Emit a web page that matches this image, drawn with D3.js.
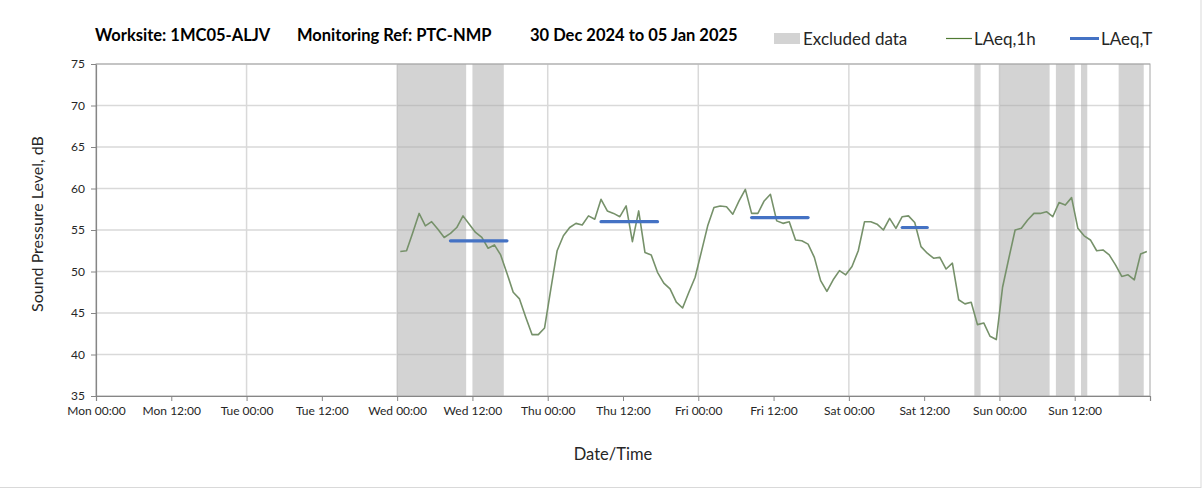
<!DOCTYPE html>
<html>
<head>
<meta charset="utf-8">
<script src="https://cdn.jsdelivr.net/npm/d3@7"></script>
<style>
  body { margin: 0; background: #fff; }
  svg { display: block; font-family: Lato, "Open Sans", sans-serif; }
</style>
</head>
<body>
<div id="chart"></div>
<script>
// Hourly LAeq,1h values, first point at Wed 01 Jan 2025 00:30, one per hour
var hourStart = Date.UTC(2025, 0, 1, 0, 30);
var laeq1h = [
  // Wed
  52.4, 52.5, 54.7, 57.0, 55.5, 56.0, 55.1, 54.1, 54.6, 55.3, 56.7, 55.7,
  54.7, 54.1, 52.8, 53.2, 52.0, 49.8, 47.5, 46.7, 44.5, 42.4, 42.4, 43.2,
  // Thu
  47.9, 52.5, 54.3, 55.3, 55.8, 55.6, 56.7, 56.3, 58.7, 57.3, 57.0, 56.6,
  57.9, 53.6, 57.3, 52.3, 52.0, 49.9, 48.6, 47.9, 46.3, 45.6, 47.5, 49.3,
  // Fri
  52.4, 55.5, 57.7, 57.9, 57.8, 56.9, 58.5, 59.9, 57.0, 57.0, 58.5, 59.3,
  56.1, 55.8, 56.0, 53.8, 53.7, 53.3, 51.7, 48.9, 47.6, 49.0, 50.1, 49.6,
  // Sat
  50.6, 52.5, 56.0, 56.0, 55.7, 55.0, 56.4, 55.2, 56.6, 56.7, 55.9, 53.0,
  52.2, 51.6, 51.7, 50.3, 51.0, 46.6, 46.1, 46.3, 43.6, 43.8, 42.2, 41.8,
  // Sun
  48.1, 51.6, 55.0, 55.2, 56.2, 57.0, 57.0, 57.2, 56.6, 58.3, 58.0, 58.9,
  55.2, 54.3, 53.8, 52.5, 52.6, 52.0, 50.8, 49.4, 49.6, 49.0, 52.1, 52.4
];

// LAeq,T over the working periods
var periodStart = ["2025-01-01T08:30Z", "2025-01-02T08:30Z", "2025-01-03T08:30Z", "2025-01-04T08:30Z"];
var periodEnd   = ["2025-01-01T17:30Z", "2025-01-02T17:30Z", "2025-01-03T17:30Z", "2025-01-04T12:30Z"];
var laeqT       = [53.7, 56.0, 56.5, 55.3];

// excluded data periods
var exclStart = ["2025-01-01T00:00Z", "2025-01-01T12:00Z", "2025-01-04T20:00Z", "2025-01-05T00:00Z",
                 "2025-01-05T09:00Z", "2025-01-05T13:00Z", "2025-01-05T19:00Z"];
var exclEnd   = ["2025-01-01T11:00Z", "2025-01-01T17:00Z", "2025-01-04T21:00Z", "2025-01-05T08:00Z",
                 "2025-01-05T12:00Z", "2025-01-05T14:00Z", "2025-01-05T23:00Z"];

var yTicks = [35, 40, 45, 50, 55, 60, 65, 70, 75];

var width = 1203, height = 489;
var margin = { left: 96, right: 53, top: 64, bottom: 93 };

var svg = d3.select('#chart').append('svg')
  .attr('width', width)
  .attr('height', height);

// outer chart border (only right/bottom visible in the original)
svg.append('rect')
  .attr('x', -1).attr('y', -1)
  .attr('width', 1202).attr('height', 488.5)
  .attr('fill', 'none')
  .attr('stroke', '#d9d9d9');

var x = d3.scaleUtc()
  .domain([Date.UTC(2024, 11, 30), Date.UTC(2025, 0, 6)])
  .range([margin.left, width - margin.right]);

var y = d3.scaleLinear()
  .domain([35, 75])
  .range([height - margin.bottom, margin.top]);

var plot = svg.append('g');

// gridlines
plot.selectAll('.hgrid')
  .data(yTicks.slice(1))
  .enter().append('line')
  .attr('x1', x.range()[0]).attr('x2', x.range()[1])
  .attr('y1', function (d) { return y(d); })
  .attr('y2', function (d) { return y(d); })
  .attr('stroke', '#d9d9d9')
  .attr('stroke-width', 1.5);

var days = d3.utcDay.range(x.domain()[0], x.domain()[1]).slice(1);
plot.selectAll('.vgrid')
  .data(days)
  .enter().append('line')
  .attr('x1', function (d) { return x(d); })
  .attr('x2', function (d) { return x(d); })
  .attr('y1', y(35)).attr('y2', y(75))
  .attr('stroke', '#d9d9d9')
  .attr('stroke-width', 1.5);

// excluded bands (semi transparent so gridlines show through)
plot.selectAll('.excl')
  .data(exclStart)
  .enter().append('rect')
  .attr('x', function (d) { return x(new Date(d)); })
  .attr('width', function (d, i) { return x(new Date(exclEnd[i])) - x(new Date(d)); })
  .attr('y', y(75))
  .attr('height', y(35) - y(75))
  .attr('fill', '#a8a8a8')
  .attr('opacity', 0.5);

// plot area frame
svg.append('rect')
  .attr('x', x.range()[0]).attr('y', y(75))
  .attr('width', x.range()[1] - x.range()[0])
  .attr('height', y(35) - y(75))
  .attr('fill', 'none')
  .attr('stroke', '#a6a6a6')
  .attr('stroke-width', 1);

// LAeq,1h line
var line = d3.line()
  .x(function (d, i) { return x(new Date(hourStart + i * 3600000)); })
  .y(function (d) { return y(d); });

plot.append('path')
  .datum(laeq1h)
  .attr('d', line)
  .attr('fill', 'none')
  .attr('stroke', '#76916a')
  .attr('stroke-width', 1.6)
  .attr('stroke-linejoin', 'round');

// LAeq,T segments
plot.selectAll('.laeqT')
  .data(laeqT)
  .enter().append('line')
  .attr('x1', function (d, i) { return x(new Date(periodStart[i])); })
  .attr('x2', function (d, i) { return x(new Date(periodEnd[i])); })
  .attr('y1', function (d) { return y(d); })
  .attr('y2', function (d) { return y(d); })
  .attr('stroke', '#4472c4')
  .attr('stroke-width', 3.2)
  .attr('stroke-linecap', 'round');

// axes
var xAxis = d3.axisBottom(x)
  .ticks(d3.utcHour.every(12))
  .tickSizeOuter(0)
  .tickSize(5)
  .tickPadding(5)
  .tickFormat(function (d) {
    return +d === +x.domain()[1] ? '' : d3.utcFormat('%a %H:%M')(d);
  });

var gx = svg.append('g')
  .attr('transform', 'translate(0,' + y(35) + ')')
  .call(xAxis);

var yAxis = d3.axisLeft(y)
  .tickValues(yTicks)
  .tickSize(5)
  .tickPadding(6)
  .tickSizeOuter(0);

var gy = svg.append('g')
  .attr('transform', 'translate(' + x.range()[0] + ',0)')
  .call(yAxis);

[gx, gy].forEach(function (g) {
  g.select('.domain').attr('stroke', '#868686').attr('stroke-width', 1.2);
  g.selectAll('.tick line').attr('stroke', '#868686');
  g.selectAll('.tick text')
    .attr('fill', '#262626')
    .style('font-size', '12px')
    .style('font-family', 'Lato, sans-serif');
});

// axis titles
svg.append('text')
  .attr('transform', 'translate(43,224) rotate(-90)')
  .attr('text-anchor', 'middle')
  .attr('fill', '#262626')
  .style('font-size', '16px')
  .text('Sound Pressure Level, dB');

svg.append('text')
  .attr('x', 613).attr('y', 460)
  .attr('text-anchor', 'middle')
  .attr('fill', '#262626')
  .style('font-size', '16.5px')
  .text('Date/Time');

// title
var titleParts = ['Worksite: 1MC05-ALJV', 'Monitoring Ref: PTC-NMP', '30 Dec 2024 to 05 Jan 2025'];
var titleX = [95, 297, 530];
svg.selectAll('.title')
  .data(titleParts)
  .enter().append('text')
  .attr('x', function (d, i) { return titleX[i]; })
  .attr('y', 41)
  .attr('fill', '#000')
  .style('font-size', '16.5px')
  .style('font-weight', 'bold')
  .text(function (d) { return d; });

// legend
var legend = svg.append('g').style('font-size', '17px').attr('fill', '#262626');
legend.append('rect')
  .attr('x', 774).attr('y', 33).attr('width', 26).attr('height', 11)
  .attr('fill', '#d3d3d3');
legend.append('text').attr('x', 803).attr('y', 44.5).text('Excluded data');
legend.append('line')
  .attr('x1', 946).attr('x2', 972).attr('y1', 38.5).attr('y2', 38.5)
  .attr('stroke', '#4f7a32').attr('stroke-width', 1.2);
legend.append('text').attr('x', 974).attr('y', 44.5).text('LAeq,1h');
legend.append('line')
  .attr('x1', 1070).attr('x2', 1099).attr('y1', 38.5).attr('y2', 38.5)
  .attr('stroke', '#4472c4').attr('stroke-width', 3);
legend.append('text').attr('x', 1101).attr('y', 44.5).text('LAeq,T');
</script>
</body>
</html>
